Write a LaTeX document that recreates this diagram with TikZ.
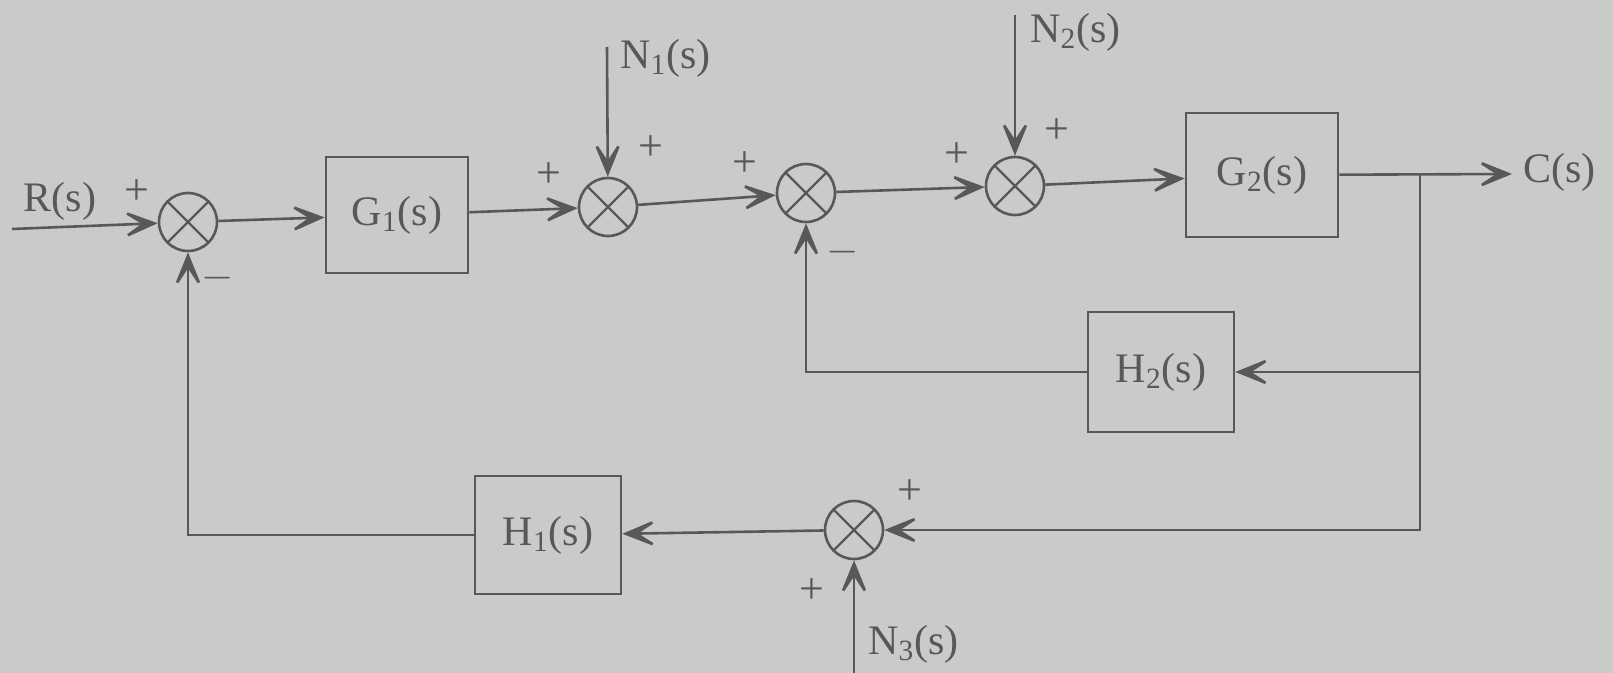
\documentclass[tikz,border=0pt]{standalone}
\usepackage{fontspec}
\setmainfont{Liberation Serif}
\usetikzlibrary{arrows.meta}
\definecolor{bg}{RGB}{201,203,200}
\definecolor{ink}{RGB}{88,88,88}
\begin{document}
\begin{tikzpicture}[x=0.5pt,y=-0.5pt,
  sumnode/.style={circle, draw=ink, line width=1.3pt, minimum size=29pt, inner sep=0pt,
    path picture={\draw[ink, line width=1.2pt]
      (path picture bounding box.north west) -- (path picture bounding box.south east)
      (path picture bounding box.north east) -- (path picture bounding box.south west);}},
  blk/.style={draw=ink, line width=1.3pt, text=ink, inner sep=0pt, font=\fontsize{21}{23}\selectfont},
  lbl/.style={text=ink, inner sep=0pt, font=\fontsize{21}{23}\selectfont},
  sig/.style={text=ink, inner sep=0pt, font=\fontsize{22}{22}\selectfont},
  conn/.style={draw=ink, line width=1.3pt, -{Stealth[length=21pt,width=17pt,inset=13pt]}},
  wire/.style={draw=ink, line width=1.3pt}]
\fill[bg] (0,0) rectangle (1613,673);
\useasboundingbox (0,0) rectangle (1613,673);

% summing junctions
\node[sumnode] (s1) at (188,222) {};
\node[sumnode] (s2) at (608,207) {};
\node[sumnode] (s3) at (806,193) {};
\node[sumnode] (s4) at (1015,186) {};
\node[sumnode] (s5) at (854,530) {};

% blocks
\node[blk, minimum width=71pt, minimum height=58pt] (G1) at (397,215) {G\textsubscript{1}(s)};
\node[blk, minimum width=76pt, minimum height=62pt] (G2) at (1262,175) {G\textsubscript{2}(s)};
\node[blk, minimum width=73pt, minimum height=60pt] (H2) at (1161,372) {H\textsubscript{2}(s)};
\node[blk, minimum width=73pt, minimum height=59pt] (H1) at (548,535) {H\textsubscript{1}(s)};

% free ends
\coordinate (rin) at (12,229);
\coordinate (cout) at (1512,174);
\coordinate (br) at (1420,175);
\coordinate (n1) at (607,47);
\coordinate (n2) at (1015,15);
\coordinate (n3) at (854,673);

% labels
\node[lbl] (rl) at (60,201) {R(s)};
\node[lbl, anchor=west] (cl) at (1523,172) {C(s)};
\node[lbl, anchor=west] (n1l) at (620,58) {N\textsubscript{1}(s)};
\node[lbl, anchor=west] (n2l) at (1030,32) {N\textsubscript{2}(s)};
\node[lbl, anchor=west] (n3l) at (868,644) {N\textsubscript{3}(s)};

% signs
\node[sig] (p1a) at (137,192) {+};
\node[sig] (m1) at (218,278) {$-$};
\node[sig] (p2a) at (549,175) {+};
\node[sig] (p2b) at (651,148) {+};
\node[sig] (p3a) at (745,164) {+};
\node[sig] (m3) at (843,252) {$-$};
\node[sig] (p4a) at (957,155) {+};
\node[sig] (p4b) at (1057,131) {+};
\node[sig] (p5a) at (910,492) {+};
\node[sig] (p5b) at (812,591) {+};

% forward path
\draw[conn] (rin) -- (s1);
\draw[conn] (s1) -- (G1);
\draw[conn] (G1) -- (s2);
\draw[conn] (s2) -- (s3);
\draw[conn] (s3) -- (s4);
\draw[conn] (s4) -- (G2);
\draw[conn] (G2) -- (cout);

% disturbances
\draw[conn] (n1) -- (s2);
\draw[conn] (n2) -- (s4);
\draw[conn] (n3) -- (s5);

% feedback
\draw[conn] (br) |- (s5);
\draw[conn] (br |- H2) -- (H2);
\draw[conn] (H2.west) -| (s3.south);
\draw[conn] (s5) -- (H1);
\draw[conn] (H1.west) -| (s1.south);
\end{tikzpicture}
\end{document}
